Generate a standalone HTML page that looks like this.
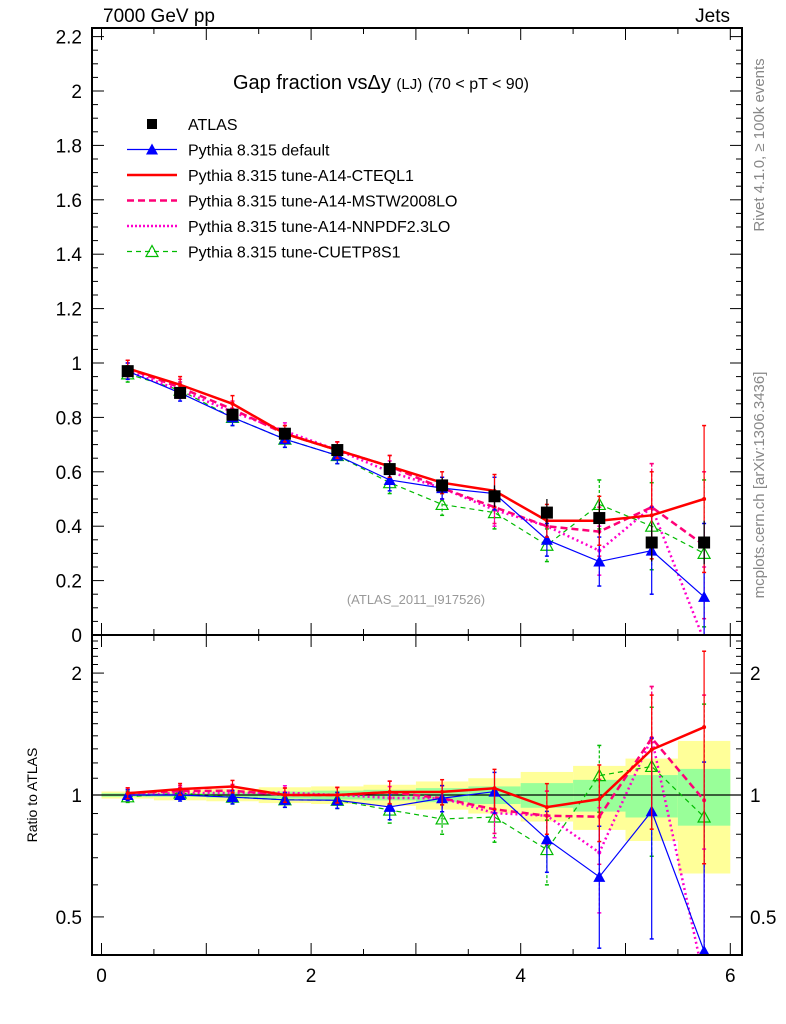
<!DOCTYPE html>
<html><head><meta charset="utf-8"><style>
html,body{margin:0;padding:0;background:#fff;width:786px;height:1024px;overflow:hidden;}
svg{display:block;font-family:"Liberation Sans",Arial,sans-serif;}
</style></head><body>
<svg id="c" width="786" height="1024" xmlns="http://www.w3.org/2000/svg">
<rect width="786" height="1024" fill="#fff"/>
<g id="g"></g>
</svg>
<script>
const xCenters=[0.25,0.75,1.25,1.75,2.25,2.75,3.25,3.75,4.25,4.75,5.25,5.75];
const atlas=[0.97,0.89,0.81,0.74,0.68,0.61,0.55,0.51,0.45,0.43,0.34,0.34];
const atlasErr=[0.02,0.02,0.02,0.02,0.02,0.03,0.03,0.04,0.05,0.06,0.07,0.08];
const pyDefault=[0.97,0.89,0.80,0.72,0.66,0.57,0.54,0.52,0.35,0.27,0.31,0.14];
const pyCTEQ=[0.98,0.92,0.85,0.74,0.68,0.62,0.56,0.53,0.42,0.42,0.44,0.50];
const pyMSTW=[0.98,0.91,0.83,0.74,0.68,0.62,0.54,0.47,0.40,0.38,0.47,0.33];
const pyNNPDF=[0.97,0.90,0.82,0.75,0.68,0.60,0.54,0.46,0.40,0.31,0.47,-0.02];
const pyCUETP=[0.96,0.90,0.80,0.72,0.66,0.56,0.48,0.45,0.33,0.48,0.40,0.30];
const mcErr=[0.03,0.03,0.03,0.03,0.03,0.04,0.04,0.06,0.06,0.09,0.16,0.27];
const bandGreen=[0.01,0.01,0.015,0.02,0.025,0.03,0.04,0.05,0.07,0.09,0.12,0.16];
const bandYellow=[0.02,0.03,0.035,0.045,0.05,0.06,0.08,0.10,0.14,0.18,0.23,0.36];
const mainTicks=[0,0.2,0.4,0.6,0.8,1,1.2,1.4,1.6,1.8,2,2.2];
const xTicks=[0,2,4,6];
const ratioTicks=[0.5,1,2];

const NS="http://www.w3.org/2000/svg";
const G=document.getElementById('g');
const L=92,R=742,MT=28,MB=635,RB=955;
const sx=v=>101.5+104.8*v;
const sy=v=>635-272*Math.max(v,-0.05);
const sr=v=>795-405*Math.log10(Math.min(Math.max(v,0.35),2.6));
function el(tag,at,parent){const e=document.createElementNS(NS,tag);for(const k in at)e.setAttribute(k,at[k]);(parent||G).appendChild(e);return e;}
function txt(s,at,parent){const e=el('text',at,parent);e.textContent=s;return e;}

const defs=el('defs',{});
const c1=el('clipPath',{id:'cm'},defs);el('rect',{x:L,y:MT,width:R-L,height:MB-MT},c1);
const c2=el('clipPath',{id:'cr'},defs);el('rect',{x:L,y:MB,width:R-L,height:RB-MB},c2);

const bands=el('g',{'clip-path':'url(#cr)'});


xCenters.forEach((x,i)=>{
  const x0=sx(x-0.25),x1=sx(x+0.25);
  const ry=el('rect',{x:x0,y:sr(1+bandYellow[i]),width:x1-x0,height:sr(1-bandYellow[i])-sr(1+bandYellow[i]),fill:'#ffff99'},bands);
  
  
  const rg=el('rect',{x:x0,y:sr(1+bandGreen[i]),width:x1-x0,height:sr(1-bandGreen[i])-sr(1+bandGreen[i]),fill:'#99ff99'},bands);
  
  
});
el('line',{x1:L,x2:R,y1:sr(1),y2:sr(1),stroke:'#000','stroke-width':1.2});

const series=[
 {name:'pythia-cuetp8s1',v:pyCUETP,c:'#00bb00',w:1.2,d:'5,4',m:'otri'},
 {name:'pythia-nnpdf',v:pyNNPDF,c:'#ff00cc',w:2.5,d:'2,3',m:'dot'},
 {name:'pythia-mstw',v:pyMSTW,c:'#ff0077',w:2.5,d:'7,4',m:'dot'},
 {name:'pythia-default',v:pyDefault,c:'#0000ff',w:1.2,d:'',m:'tri'},
 {name:'pythia-cteql1',v:pyCTEQ,c:'#ff0000',w:2.5,d:'',m:'dot'}
];
function marker(m,x,y,c,p){
  if(m==='tri')el('polygon',{points:`${x},${y-6} ${x-6},${y+5} ${x+6},${y+5}`,fill:c},p);
  else if(m==='otri')el('polygon',{points:`${x},${y-6} ${x-6},${y+5} ${x+6},${y+5}`,fill:'none',stroke:c,'stroke-width':1.2},p);
  else el('circle',{cx:x,cy:y,r:2,fill:c},p);
}
function drawSeries(s,ratio){
  const g=el('g',{'clip-path':ratio?'url(#cr)':'url(#cm)'});
  
  
  const val=i=>ratio?s.v[i]/atlas[i]:s.v[i];
  const Y=v=>ratio?sr(v):sy(v);
  const pts=xCenters.map((x,i)=>sx(x)+','+Y(val(i))).join(' ');
  const pl=el('polyline',{points:pts,fill:'none',stroke:s.c,'stroke-width':s.w,'stroke-dasharray':s.d},g);
  
  
  xCenters.forEach((x,i)=>{
    const v=val(i),e=ratio?mcErr[i]/atlas[i]:mcErr[i];
    const X=sx(x);
    el('line',{x1:X,x2:X,y1:Y(v+e),y2:Y(v-e),stroke:s.c,'stroke-width':1.2,'stroke-dasharray':s.d?'3,2':''},g);
    el('line',{x1:X-2,x2:X+2,y1:Y(v+e),y2:Y(v+e),stroke:s.c,'stroke-width':1.5},g);
    el('line',{x1:X-2,x2:X+2,y1:Y(v-e),y2:Y(v-e),stroke:s.c,'stroke-width':1.5},g);
    marker(s.m,X,Y(v),s.c,g);
  });
}
series.forEach(s=>drawSeries(s,false));
const dg=el('g',{'clip-path':'url(#cm)'});


xCenters.forEach((x,i)=>{
  const X=sx(x),Yv=sy(atlas[i]);
  el('line',{x1:X,x2:X,y1:sy(atlas[i]+atlasErr[i]),y2:sy(atlas[i]-atlasErr[i]),stroke:'#000','stroke-width':1.2},dg);
  const r=el('rect',{x:X-6,y:Yv-6,width:12,height:12,fill:'#000'},dg);
  
  
});
series.forEach(s=>drawSeries(s,true));

el('rect',{x:L,y:MT,width:R-L,height:MB-MT,fill:'none',stroke:'#000','stroke-width':2});
el('rect',{x:L,y:MB,width:R-L,height:RB-MB,fill:'none',stroke:'#000','stroke-width':2});

for(let k=0;k<=44;k++){const v=k*0.05,y=sy(v);if(y<MT)continue;const maj=k%4===0;
  el('line',{x1:L,x2:L+(maj?12:6),y1:y,y2:y,stroke:'#000','stroke-width':1});
  el('line',{x1:R,x2:R-(maj?12:6),y1:y,y2:y,stroke:'#000','stroke-width':1});}
mainTicks.forEach(v=>{const t=txt(String(v),{x:82,y:sy(v)+7,'font-size':19,'text-anchor':'end'});
  });
for(let k=0;k<=12;k++){const x=sx(k*0.5),maj=k%2===0;
  el('line',{x1:x,x2:x,y1:MB,y2:MB-(maj?12:6),stroke:'#000'});
  el('line',{x1:x,x2:x,y1:MT,y2:MT+(maj?12:6),stroke:'#000'});
  el('line',{x1:x,x2:x,y1:RB,y2:RB-(maj?12:6),stroke:'#000'});
  el('line',{x1:x,x2:x,y1:MB,y2:MB+(maj?12:6),stroke:'#000'});}
xTicks.forEach(v=>{const t=txt(String(v),{x:sx(v),y:982,'font-size':19,'text-anchor':'middle'});
  });
for(let v=0.4;v<=2.5;v+=0.1){const y=sr(v);if(y<MB||y>RB)continue;const maj=ratioTicks.some(r=>Math.abs(r-v)<1e-6);
  el('line',{x1:L,x2:L+(maj?12:6),y1:y,y2:y,stroke:'#000'});
  el('line',{x1:R,x2:R-(maj?12:6),y1:y,y2:y,stroke:'#000'});}
ratioTicks.forEach(v=>{
  const a=txt(String(v),{x:82,y:sr(v)+7,'font-size':19,'text-anchor':'end'});
  
  const b=txt(String(v),{x:750,y:sr(v)+7,'font-size':19});
  
});
const yl=txt('Ratio to ATLAS',{x:0,y:0,'font-size':14,'text-anchor':'middle',transform:'translate(37,795) rotate(-90)'});


const h1=txt('7000 GeV pp',{x:103,y:22,'font-size':19});
const h2=txt('Jets',{x:730,y:22,'font-size':19,'text-anchor':'end'});
const tt=txt('',{x:233,y:89,'font-size':20});
tt.innerHTML='Gap fraction vs\u0394y <tspan font-size="15">(LJ)</tspan> <tspan font-size="16">(70 &lt; pT &lt;  90)</tspan>';
const w1=txt('Rivet 4.1.0, \u2265 100k events',{x:0,y:0,'font-size':15,fill:'#888','text-anchor':'middle',transform:'translate(764,145) rotate(-90)'});

const w2=txt('mcplots.cern.ch [arXiv:1306.3436]',{x:0,y:0,'font-size':15,fill:'#888','text-anchor':'middle',transform:'translate(764,485) rotate(-90)'});

const an=txt('(ATLAS_2011_I917526)',{x:416,y:604,'font-size':13,fill:'#999','text-anchor':'middle'});


const legend=[
 {t:'ATLAS',c:'#000',m:'sq',d:'',w:0},
 {t:'Pythia 8.315 default',c:'#0000ff',m:'tri',d:'',w:1.2},
 {t:'Pythia 8.315 tune-A14-CTEQL1',c:'#ff0000',m:'',d:'',w:2.5},
 {t:'Pythia 8.315 tune-A14-MSTW2008LO',c:'#ff0077',m:'',d:'7,4',w:2.5},
 {t:'Pythia 8.315 tune-A14-NNPDF2.3LO',c:'#ff00cc',m:'',d:'2,2',w:2.5},
 {t:'Pythia 8.315 tune-CUETP8S1',c:'#00bb00',m:'otri',d:'5,4',w:1.2}
];
const lg=el('g',{});
legend.forEach((e,i)=>{
  const y=124+i*25.5;
  const row=el('g',{},lg);
  
  
  if(e.w)el('line',{x1:127,x2:177,y1:y,y2:y,stroke:e.c,'stroke-width':e.w,'stroke-dasharray':e.d},row);
  if(e.m==='sq')el('rect',{x:147,y:y-5,width:10,height:10,fill:'#000'},row);
  else if(e.m)marker(e.m,152,y,e.c,row);
  txt(e.t,{x:188,y:y+6,'font-size':16},row);
});
</script>
</body></html>
